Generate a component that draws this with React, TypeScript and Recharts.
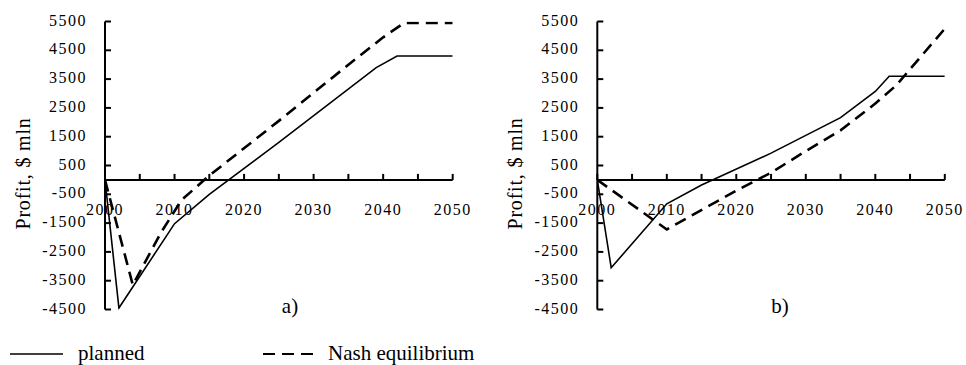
import React from 'react';
import { LineChart, Line, XAxis, YAxis, ReferenceLine, Label } from 'recharts';

// panel a)
const yearsPlannedA = [2000, 2002, 2010, 2015, 2025, 2039, 2042, 2050];
const plannedA = [0, -4450, -1520, -500, 1300, 3900, 4300, 4300];
const yearsNashA = [2000, 2004, 2008, 2011, 2015, 2025, 2035, 2040, 2043, 2050];
const nashA = [0, -3650, -1850, -700, 150, 2050, 4000, 4950, 5450, 5450];

// panel b)
const yearsPlannedB = [2000, 2002, 2010, 2015, 2025, 2035, 2040, 2042, 2050];
const plannedB = [0, -3050, -830, -180, 930, 2160, 3070, 3600, 3600];
const yearsNashB = [2000, 2010, 2020, 2025, 2030, 2035, 2040, 2043, 2050];
const nashB = [0, -1720, -370, 250, 1000, 1720, 2650, 3280, 5250];

const X_TICKS = [2000, 2005, 2010, 2015, 2020, 2025, 2030, 2035, 2040, 2045, 2050];
const X_LABELS = [2000, 2010, 2020, 2030, 2040, 2050];
const Y_TICKS = [-4500, -3500, -2500, -1500, -500, 500, 1500, 2500, 3500, 4500, 5500];
const Y_MIN = -4500;
const Y_MAX = 5500;

const FONT = "'Liberation Serif', 'Times New Roman', 'DejaVu Serif', serif";
const CHART_H = 330;
const TOP = 21.5;
const BOTTOM = 309.5;
const X_AXIS_H = 1;
// distance from plot bottom up to the zero line, from the y domain
const ZERO_OFFSET = ((BOTTOM - TOP) * (0 - Y_MIN)) / (Y_MAX - Y_MIN);

const toRows = (years: number[], values: number[]) =>
  years.map((year, i) => ({ year, value: values[i] }));

const tickText = { fontFamily: FONT, fontSize: 16, letterSpacing: 1.5 };

const XTick = (props: any) => {
  const { x, y, payload } = props;
  const zy = y - ZERO_OFFSET;
  return (
    <g>
      <line x1={x} x2={x} y1={zy} y2={zy - 6} stroke="#000" strokeWidth={2} />
      {X_LABELS.includes(payload.value) && (
        <text x={x} y={zy + 35} textAnchor="middle" fill="#000" style={tickText}>
          {payload.value}
        </text>
      )}
    </g>
  );
};

const YTick = (props: any) => {
  const { x, y, payload } = props;
  return (
    <g>
      <line x1={x} x2={x + 6} y1={y} y2={y} stroke="#000" strokeWidth={2} />
      <text x={x - 18} y={y + 4} textAnchor="end" fill="#000" style={tickText}>
        {payload.value}
      </text>
    </g>
  );
};

const YTitle = (props: any) => {
  const { viewBox } = props;
  const x = viewBox.x + viewBox.width - 75;
  const y = viewBox.y + viewBox.height / 2 + 8;
  return (
    <text
      x={x}
      y={y}
      transform={`rotate(-90, ${x}, ${y})`}
      textAnchor="middle"
      fill="#000"
      style={{ fontFamily: FONT, fontSize: 20, letterSpacing: 0.8 }}
    >
      Profit, $ mln
    </text>
  );
};

interface PanelProps {
  width: number;
  axisX: number;
  right: number;
  planned: { year: number; value: number }[];
  nash: { year: number; value: number }[];
}

const Panel: React.FC<PanelProps> = ({ width, axisX, right, planned, nash }) => (
  <LineChart
    width={width}
    height={CHART_H}
    margin={{ top: TOP, right, bottom: CHART_H - BOTTOM - X_AXIS_H, left: 0 }}
  >
    <XAxis
      type="number"
      dataKey="year"
      domain={[2000, 2050]}
      ticks={X_TICKS}
      interval={0}
      height={X_AXIS_H}
      axisLine={false}
      tickLine={false}
      tickSize={0}
      tickMargin={0}
      tick={<XTick />}
      allowDataOverflow
    />
    <YAxis
      type="number"
      domain={[Y_MIN, Y_MAX]}
      ticks={Y_TICKS}
      interval={0}
      width={axisX}
      axisLine={{ stroke: '#000', strokeWidth: 2 }}
      tickLine={false}
      tickSize={0}
      tickMargin={0}
      tick={<YTick />}
      allowDataOverflow
    >
      <Label content={<YTitle />} />
    </YAxis>
    <ReferenceLine y={0} stroke="#000" strokeWidth={2} />
    <Line
      data={planned}
      dataKey="value"
      type="linear"
      stroke="#000"
      strokeWidth={1.6}
      dot={false}
      activeDot={false}
      isAnimationActive={false}
    />
    <Line
      data={nash}
      dataKey="value"
      type="linear"
      stroke="#000"
      strokeWidth={2.6}
      strokeDasharray="12 7"
      dot={false}
      activeDot={false}
      isAnimationActive={false}
    />
  </LineChart>
);

const App: React.FC = () => {
  const textStyle = { fontFamily: FONT, fontSize: 21 };
  return (
    <div style={{ position: 'absolute', left: 0, top: 0, width: 966, height: 365, background: '#fff', fontFamily: FONT }}>
      <div style={{ position: 'absolute', left: 0, top: 0 }}>
        <Panel
          width={480}
          axisX={105}
          right={27.3}
          planned={toRows(yearsPlannedA, plannedA)}
          nash={toRows(yearsNashA, nashA)}
        />
      </div>
      <div style={{ position: 'absolute', left: 480, top: 0 }}>
        <Panel
          width={486}
          axisX={117.3}
          right={21.2}
          planned={toRows(yearsPlannedB, plannedB)}
          nash={toRows(yearsNashB, nashB)}
        />
      </div>
      <svg
        width={966}
        height={365}
        style={{ position: 'absolute', left: 0, top: 0, pointerEvents: 'none' }}
      >
        <text x={290} y={313} textAnchor="middle" fill="#000" style={textStyle}>a)</text>
        <text x={780} y={313} textAnchor="middle" fill="#000" style={textStyle}>b)</text>
        <line x1={10} x2={63} y1={354} y2={354} stroke="#000" strokeWidth={1.6} />
        <text x={78} y={360} fill="#000" style={textStyle}>planned</text>
        <line x1={263} x2={313} y1={354} y2={354} stroke="#000" strokeWidth={2} strokeDasharray="12 7" />
        <text x={328} y={360} fill="#000" style={textStyle}>Nash equilibrium</text>
      </svg>
    </div>
  );
};

export default App;
